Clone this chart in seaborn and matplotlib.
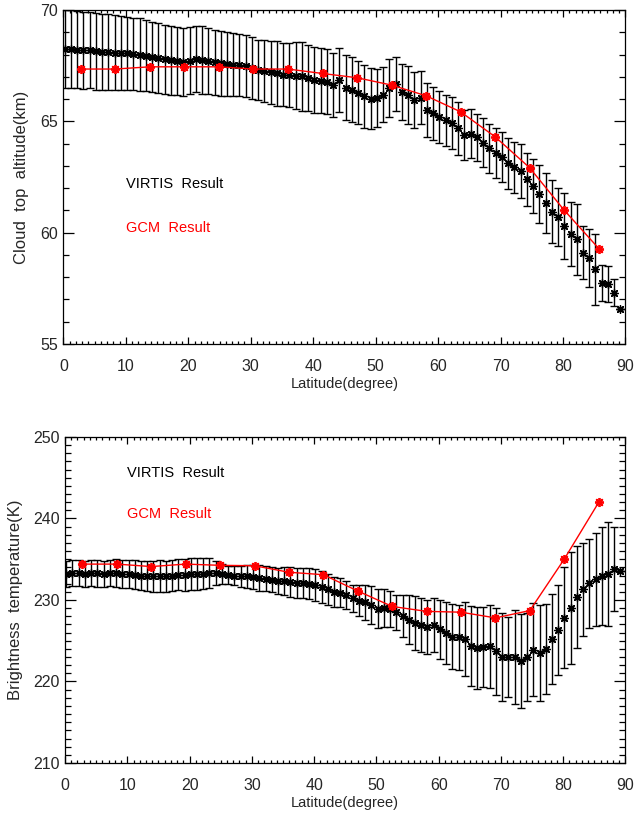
import numpy as np
import matplotlib
matplotlib.use("Agg")
import matplotlib.pyplot as plt
import seaborn as sns
from matplotlib.ticker import MultipleLocator

# VIRTIS latitude grid (1 degree bins)
virtis_lat = np.arange(0.2, 90.0, 1.0)

# cloud top altitude (km), VIRTIS
alt_virtis = [
    68.25, 68.25, 68.22, 68.20, 68.20, 68.15, 68.12, 68.10, 68.08, 68.05,
    68.05, 68.02, 68.00, 67.95, 67.88, 67.85, 67.80, 67.75, 67.72, 67.68,
    67.72, 67.80, 67.75, 67.72, 67.65, 67.60, 67.58, 67.55, 67.52, 67.48,
    67.40, 67.30, 67.25, 67.20, 67.15, 67.10, 67.08, 67.05, 67.02, 66.95,
    66.86, 66.82, 66.78, 66.62, 66.86, 66.50, 66.42, 66.28, 66.12, 66.02,
    66.04, 66.20, 66.50, 66.68, 66.32, 66.18, 65.96, 66.06, 65.52, 65.36,
    65.20, 65.05, 64.92, 64.68, 64.40, 64.45, 64.28, 64.04, 63.80, 63.58,
    63.38, 63.11, 62.94, 62.78, 62.40, 62.10, 61.74, 61.35, 60.95, 60.72,
    60.30, 59.94, 59.70, 59.10, 58.85, 58.36, 57.73, 57.70, 57.31, 56.59,
]
alt_err = [
    1.75, 1.75, 1.74, 1.73, 1.72, 1.72, 1.70, 1.70, 1.68, 1.66,
    1.64, 1.62, 1.64, 1.60, 1.58, 1.56, 1.55, 1.55, 1.52, 1.52,
    1.50, 1.50, 1.52, 1.48, 1.46, 1.45, 1.44, 1.42, 1.40, 1.40,
    1.38, 1.36, 1.40, 1.42, 1.44, 1.42, 1.45, 1.50, 1.55, 1.50,
    1.48, 1.46, 1.45, 1.44, 1.45, 1.46, 1.45, 1.42, 1.40, 1.38,
    1.30, 1.25, 1.30, 1.22, 1.25, 1.30, 1.25, 1.20, 1.20, 1.18,
    1.15, 1.15, 1.18, 1.17, 1.12, 1.10, 1.05, 1.10, 1.10, 1.12,
    1.12, 1.15, 1.15, 1.20, 1.18, 1.20, 1.30, 1.35, 1.40, 1.30,
    1.50, 1.45, 1.60, 1.20, 1.30, 1.60, 0.80, 0.80, 0.60, 0.00,
]

# brightness temperature (K), VIRTIS
tb_virtis = [
    233.2, 233.3, 233.3, 233.2, 233.3, 233.3, 233.2, 233.3, 233.3, 233.2,
    233.2, 233.1, 233.0, 232.9, 232.9, 232.9, 232.9, 233.0, 233.1, 233.1,
    233.2, 233.2, 233.2, 233.3, 233.3, 233.2, 233.1, 233.0, 232.9, 232.9,
    232.8, 232.7, 232.6, 232.5, 232.3, 232.3, 232.2, 232.1, 232.1, 232.0,
    231.85, 231.6, 231.3, 231.0, 230.9, 230.6, 230.2, 229.9, 229.7, 229.4,
    228.95, 229.0, 228.9, 228.5, 228.0, 227.6, 227.2, 226.9, 226.7, 226.95,
    226.4, 225.9, 225.5, 225.4, 225.2, 224.4, 224.1, 224.2, 224.3, 223.7,
    223.0, 223.0, 223.0, 222.5, 223.0, 223.9, 223.5, 224.0, 225.2, 226.3,
    227.8, 229.0, 230.35, 231.3, 232.05, 232.55, 232.95, 233.2, 233.8, 233.6,
]
tb_err = [
    1.6, 1.6, 1.6, 1.6, 1.6, 1.65, 1.6, 1.6, 1.7, 1.7,
    1.7, 1.75, 1.8, 1.85, 1.9, 1.95, 1.9, 1.85, 1.9, 1.95,
    1.95, 1.95, 1.9, 1.8, 1.5, 1.2, 1.1, 1.15, 1.3, 1.45,
    1.5, 1.55, 1.55, 1.5, 1.6, 1.7, 1.8, 1.85, 1.85, 1.9,
    1.95, 1.95, 1.9, 1.85, 1.8, 1.7, 1.65, 1.9, 2.1, 2.3,
    2.4, 2.35, 2.2, 2.15, 2.6, 3.0, 3.3, 3.3, 3.3, 3.35,
    3.6, 3.8, 4.0, 4.0, 4.5, 4.9, 5.0, 4.9, 5.05, 5.35,
    5.4, 4.85, 5.8, 5.8, 5.4, 5.7, 5.9, 5.55, 5.5, 5.5,
    6.2, 6.9, 6.3, 5.7, 5.45, 5.7, 6.0, 6.35, 5.2, 0.0,
]

# GCM (T21 gaussian latitudes)
gcm_lat = [2.77, 8.31, 13.84, 19.37, 24.90, 30.43, 35.96, 41.49,
           47.01, 52.54, 58.07, 63.59, 69.12, 74.64, 80.16, 85.76]
alt_gcm = [67.35, 67.35, 67.45, 67.45, 67.45, 67.35, 67.35, 67.15,
           66.96, 66.63, 66.15, 65.43, 64.31, 62.92, 61.02, 59.28]
tb_gcm = [234.4, 234.4, 234.1, 234.4, 234.25, 234.2, 233.4, 233.1,
          231.1, 229.2, 228.6, 228.5, 227.8, 228.7, 235.0, 242.05]

sns.set_style("ticks")
plt.rcParams['font.family'] = ['Liberation Sans', 'DejaVu Sans']

fig = plt.figure(figsize=(6.35, 8.16), dpi=100)
ax1 = fig.add_axes([0.0998, 0.5784, 0.8852, 0.4093])
ax2 = fig.add_axes([0.1024, 0.065, 0.8826, 0.3995])

star = (8, 2, 0)


def draw_panel(ax, vals, errs, gcm, ylim, ymajor, ylabel, txt_y, ypad):
    ax.errorbar(virtis_lat, vals, yerr=errs, fmt='none', ecolor='black',
                elinewidth=1.0, capsize=2.6, capthick=1.0, zorder=2)
    sns.scatterplot(x=virtis_lat, y=vals, ax=ax, marker=star, s=30,
                    color='black', edgecolor='black', linewidth=1.0, zorder=3)
    sns.lineplot(x=gcm_lat, y=gcm, ax=ax, color='red', linewidth=1.0,
                 marker=star, markersize=6.5, markeredgewidth=1.3,
                 markeredgecolor='red', zorder=4)
    ax.set_xlim(0, 90)
    ax.set_ylim(*ylim)
    ax.xaxis.set_major_locator(MultipleLocator(10))
    ax.xaxis.set_minor_locator(MultipleLocator(1))
    ax.yaxis.set_major_locator(MultipleLocator(ymajor))
    ax.yaxis.set_minor_locator(MultipleLocator(1))
    ax.tick_params(axis='both', which='both', direction='in',
                   top=True, right=True, color='black', width=0.9)
    ax.tick_params(axis='x', which='major', length=5, labelsize=11.5, pad=11)
    ax.tick_params(axis='x', which='minor', length=2.5)
    ax.tick_params(axis='y', which='major', length=8, labelsize=11.5, pad=4)
    ax.tick_params(axis='y', which='minor', length=4)
    for sp in ax.spines.values():
        sp.set_linewidth(0.9)
        sp.set_color('black')
    ax.set_xlabel('Latitude(degree)', fontsize=10.5, labelpad=2)
    ax.set_ylabel(ylabel, fontsize=12, labelpad=ypad)
    ax.text(10, txt_y[0], 'VIRTIS  Result', color='black', fontsize=10.5, va='center')
    ax.text(10, txt_y[1], 'GCM  Result', color='red', fontsize=10.5, va='center')


draw_panel(ax1, alt_virtis, alt_err, alt_gcm, (55, 70), 5,
           'Cloud  top  altitude(km)', (62.2, 60.2), 8)
draw_panel(ax2, tb_virtis, tb_err, tb_gcm, (210, 250), 10,
           'Brightness  temperature(K)', (245.6, 240.5), 7)

fig.savefig('out.png', dpi=100)
